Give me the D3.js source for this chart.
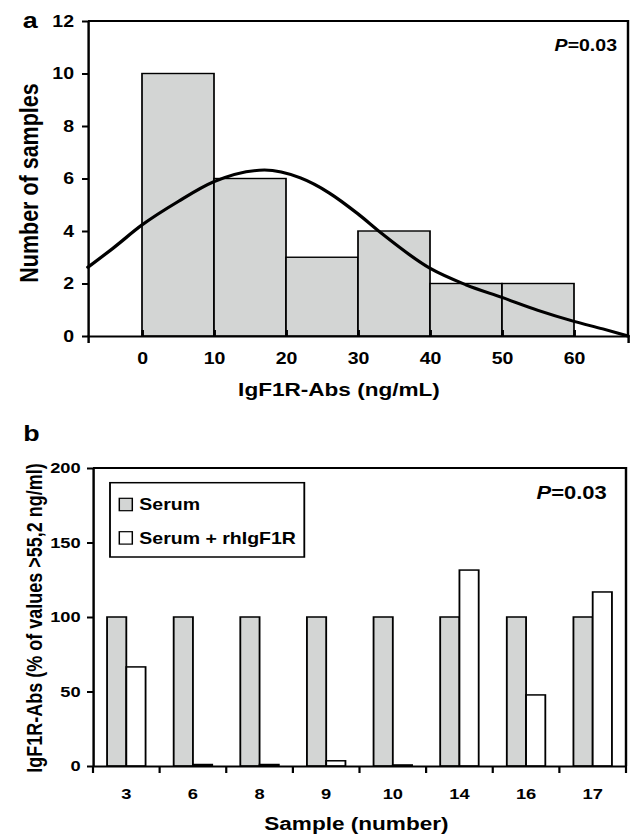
<!DOCTYPE html>
<meta charset="utf-8">
<head>
<style>
  body { margin: 0; background: #fff; }
  svg text { font-family: "Liberation Sans", Arial, sans-serif; font-weight: bold; fill: #000; }
</style>
</head>
<body>
<div id="chart"></div>
<script src="https://d3js.org/d3.v7.min.js"></script>
<script>

// panel a - histogram of IgF1R-Abs
const binStarts = [0, 10, 20, 30, 40, 50];
const binCounts = [10, 6, 3, 4, 2, 2];
const binWidth = 10;
const xTicksA = [0, 10, 20, 30, 40, 50, 60];
const yTicksA = [0, 2, 4, 6, 8, 10, 12];

// fitted curve, points
const curveX = [-7.5, -4, 0, 5, 10, 17, 22, 26, 30, 33, 40, 45, 50, 55, 60, 64, 67.5];
const curveY = [2.62, 3.35, 4.23, 5.12, 5.88, 6.32, 6.02, 5.45, 4.65, 3.97, 2.58, 1.95, 1.47, 0.98, 0.56, 0.27, 0];

// panel b - serum vs serum + rhIgF1R
const samples = ["3", "6", "8", "9", "10", "14", "16", "17"];
const serum = [100, 100, 100, 100, 100, 100, 100, 100];
const serumRh = [66.5, 1, 1, 3.5, 0.7, 131.5, 47.7, 116.8];
const seriesNames = ["Serum", "Serum + rhIgF1R"];
const yTicksB = [0, 50, 100, 150, 200];

// the original figure is stretched sideways, so draw in a narrower box and let the viewBox widen it
const K = 1.22;
const W = 631 / K, H = 834;

const svg = d3.select("#chart").append("svg")
    .attr("width", 631)
    .attr("height", H)
    .attr("viewBox", `0 0 ${W} ${H}`)
    .attr("preserveAspectRatio", "none");

const gray = "#d3d5d4";

// ================= panel a =================
const a = {left: 88 / K, right: 628 / K, top: 21, bottom: 336};

const xA = d3.scaleLinear().domain([-7.5, 67.5]).range([a.left, a.right]);
const yA = d3.scaleLinear().domain([0, 12]).range([a.bottom, a.top]);

svg.append("g")
  .selectAll("rect")
  .data(binStarts)
  .join("rect")
    .attr("x", d => xA(d))
    .attr("width", d => xA(d + binWidth) - xA(d))
    .attr("y", (d, i) => yA(binCounts[i]))
    .attr("height", (d, i) => yA(0) - yA(binCounts[i]))
    .attr("fill", gray)
    .attr("stroke", "#000")
    .attr("stroke-width", 1.4);

// top and right sides of the frame
svg.append("path")
    .attr("d", `M${a.left},${a.top}H${a.right}V${a.bottom}`)
    .attr("fill", "none")
    .attr("stroke", "#000")
    .attr("stroke-width", 2);

const yAxisA = svg.append("g")
    .attr("transform", `translate(${a.left},0)`)
    .call(d3.axisLeft(yA).tickValues(yTicksA).tickSize(6 / K).tickPadding(8 / K).tickSizeOuter(0))
    .attr("font-size", 16);

const xAxisA = svg.append("g")
    .attr("transform", `translate(0,${a.bottom})`)
    .call(d3.axisBottom(xA).tickValues(xTicksA).tickSizeInner(-6).tickSizeOuter(7).tickPadding(16.6))
    .attr("font-size", 16);

[yAxisA, xAxisA].forEach(g => {
  g.select(".domain").attr("stroke-width", 2);
  g.selectAll(".tick line").attr("stroke-width", 2);
});
xAxisA.selectAll(".tick line").attr("stroke-width", 2.2);

const curvePts = curveX.map((x, i) => [x, curveY[i]]);
svg.append("path")
    .datum(curvePts)
    .attr("d", d3.line().x(d => xA(d[0])).y(d => yA(d[1])).curve(d3.curveMonotoneX))
    .attr("fill", "none")
    .attr("stroke", "#000")
    .attr("stroke-width", 3)
    .attr("stroke-linecap", "round");

svg.append("text")
    .attr("x", 617 / K).attr("y", 51)
    .attr("text-anchor", "end")
    .attr("font-size", 16)
    .call(t => t.append("tspan").attr("font-style", "italic").text("P"))
    .call(t => t.append("tspan").text("=0.03"));

svg.append("text")
    .attr("x", 22.7 / K).attr("y", 28)
    .attr("font-size", 22)
    .text("a");

svg.append("text")
    .attr("transform", `translate(${38.3 / K},183) rotate(-90)`)
    .attr("text-anchor", "middle")
    .attr("font-size", 21.5)
    .text("Number of samples");

svg.append("text")
    .attr("x", 339 / K).attr("y", 396)
    .attr("text-anchor", "middle")
    .attr("font-size", 18.5)
    .text("IgF1R-Abs (ng/mL)");

// ================= panel b =================
const b = {left: 93 / K, right: 626 / K, top: 468, bottom: 766};

const xB = d3.scaleBand().domain(samples).range([b.left, b.right]);
const xSub = d3.scaleBand().domain(seriesNames).range([0, xB.bandwidth()]).paddingInner(0).paddingOuter(0.73);
const yB = d3.scaleLinear().domain([0, 200]).range([b.bottom, b.top]);

const rows = samples.map((s, i) => ({sample: s, values: [serum[i], serumRh[i]]}));

svg.append("g")
  .selectAll("g")
  .data(rows)
  .join("g")
    .attr("transform", d => `translate(${xB(d.sample)},0)`)
  .selectAll("rect")
  .data(d => d.values.map((v, j) => ({name: seriesNames[j], value: v})))
  .join("rect")
    .attr("x", d => xSub(d.name))
    .attr("width", xSub.bandwidth())
    .attr("y", d => yB(d.value))
    .attr("height", d => yB(0) - yB(d.value))
    .attr("fill", d => d.name === "Serum" ? gray : "#fff")
    .attr("stroke", "#000")
    .attr("stroke-width", 1.5);

svg.append("path")
    .attr("d", `M${b.left},${b.top}H${b.right}V${b.bottom}`)
    .attr("fill", "none")
    .attr("stroke", "#000")
    .attr("stroke-width", 2);

const yAxisB = svg.append("g")
    .attr("transform", `translate(${b.left},0)`)
    .call(d3.axisLeft(yB).tickValues(yTicksB).tickSize(6 / K).tickPadding(6.3 / K).tickSizeOuter(0))
    .attr("font-size", 15);

const xAxisB = svg.append("g")
    .attr("transform", `translate(0,${b.bottom})`)
    .call(d3.axisBottom(xB).tickSize(0).tickPadding(22.5))
    .attr("font-size", 15);

[yAxisB, xAxisB].forEach(g => {
  g.select(".domain").attr("stroke-width", 2);
  g.selectAll(".tick line").attr("stroke-width", 2);
});

// category separators below the axis
xAxisB.selectAll("line.sep")
  .data([...samples.map(s => xB(s)), xB.range()[1]])
  .join("line")
    .attr("class", "sep")
    .attr("x1", d => d).attr("x2", d => d)
    .attr("y1", 0).attr("y2", 7)
    .attr("stroke", "#000")
    .attr("stroke-width", 1.8);

// legend
const leg = svg.append("g");
leg.append("rect")
    .attr("x", 110 / K).attr("y", 482.7)
    .attr("width", (304.3 - 110) / K).attr("height", 74.3)
    .attr("fill", "#fff")
    .attr("stroke", "#000")
    .attr("stroke-width", 1.5);

seriesNames.forEach((name, i) => {
  const y = 498.3 + i * 33.4;
  leg.append("rect")
      .attr("x", 119.3 / K).attr("y", y)
      .attr("width", 13 / K).attr("height", 12.4)
      .attr("fill", i === 0 ? gray : "#fff")
      .attr("stroke", "#000")
      .attr("stroke-width", 1.2);
  leg.append("text")
      .attr("x", 139.3 / K).attr("y", y + 12.2)
      .attr("font-size", 16)
      .text(name);
});

svg.append("text")
    .attr("x", 606.7 / K).attr("y", 499.3)
    .attr("text-anchor", "end")
    .attr("font-size", 18)
    .call(t => t.append("tspan").attr("font-style", "italic").text("P"))
    .call(t => t.append("tspan").text("=0.03"));

svg.append("text")
    .attr("x", 23.3 / K).attr("y", 441.5)
    .attr("font-size", 22)
    .text("b");

svg.append("text")
    .attr("transform", `translate(${41.7 / K},618) rotate(-90)`)
    .attr("text-anchor", "middle")
    .attr("font-size", 18)
    .text("IgF1R-Abs (% of values >55,2 ng/ml)");

svg.append("text")
    .attr("x", 356.4 / K).attr("y", 830)
    .attr("text-anchor", "middle")
    .attr("font-size", 18.5)
    .text("Sample (number)");

</script>
</body>
